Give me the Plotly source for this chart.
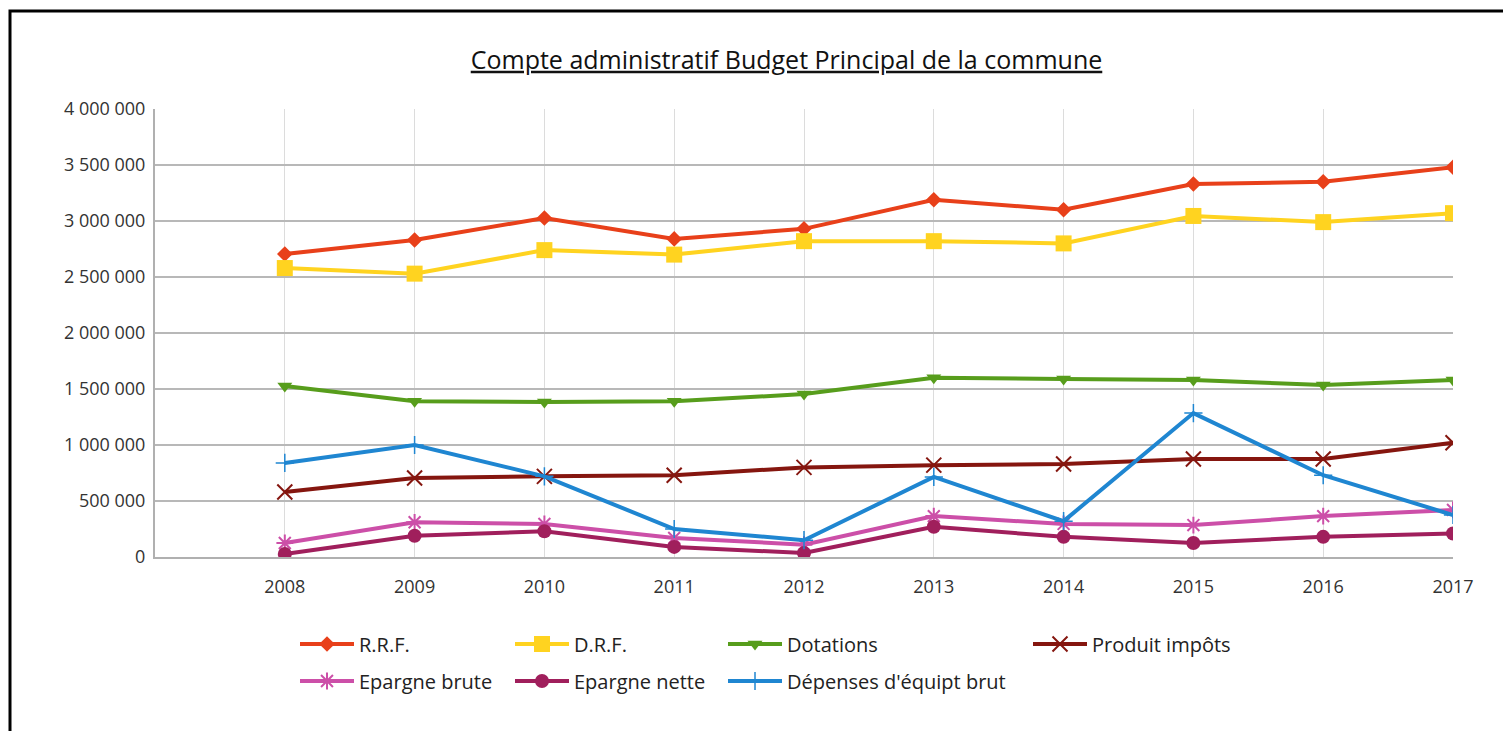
import plotly.graph_objects as go

years = [2008, 2009, 2010, 2011, 2012, 2013, 2014, 2015, 2016, 2017]

rrf = [2705000, 2830000, 3027000, 2840000, 2930000, 3190000, 3100000, 3330000, 3350000, 3480000]
drf = [2580000, 2530000, 2740000, 2700000, 2820000, 2820000, 2800000, 3045000, 2990000, 3070000]
dotations = [1527000, 1390000, 1384000, 1390000, 1455000, 1600000, 1590000, 1580000, 1535000, 1580000]
produit_impots = [580000, 705000, 720000, 730000, 800000, 820000, 830000, 875000, 875000, 1020000]
epargne_brute = [125000, 310000, 295000, 170000, 110000, 365000, 295000, 285000, 365000, 420000]
epargne_nette = [27000, 190000, 230000, 90000, 35000, 270000, 180000, 125000, 180000, 210000]
depenses_equip = [840000, 1000000, 720000, 250000, 150000, 715000, 320000, 1285000, 730000, 375000]

series_names = ["R.R.F.", "D.R.F.", "Dotations", "Produit impôts",
                "Epargne brute", "Epargne nette", "Dépenses d'équipt brut"]
series_values = [rrf, drf, dotations, produit_impots, epargne_brute, epargne_nette, depenses_equip]
colors = ["#e8401a", "#ffd320", "#579d1c", "#85160f", "#cc4fa8", "#a01f5c", "#1f86d1"]
symbols = ["diamond", "square", "triangle-down", "x-thin", "asterisk", "circle", "cross-thin"]
sizes = [12, 16, 13, 15, 14, 14, 13]
thin_widths = {"x-thin": 2, "asterisk": 2, "cross-thin": 1.5}

title_text = "Compte administratif Budget Principal de la commune"
y_ticks = [0, 500000, 1000000, 1500000, 2000000, 2500000, 3000000, 3500000, 4000000]

# page has an 8px body margin: figure drawn at (8, 8)
OFF = 8
W, H = 1503, 723
# plot area in page pixels
PL, PR, PT, PB = 155, 1453, 109, 557
# legend placement (page pixel positions of line start, row centre)
leg_pos = [(301, 644), (516, 644), (729, 644), (1034, 644),
           (301, 681), (516, 681), (729, 681)]

fig = go.Figure()
for i, (name, vals) in enumerate(zip(series_names, series_values)):
    marker = dict(symbol=symbols[i], size=sizes[i], color=colors[i])
    if symbols[i] in thin_widths:
        marker["line"] = dict(color=colors[i], width=thin_widths[symbols[i]])
    else:
        marker["line"] = dict(width=0)
    fig.add_trace(go.Scatter(
        x=years, y=vals, name=name, mode="lines+markers",
        line=dict(color=colors[i], width=4),
        marker=marker,
        legend="legend" if i == 0 else f"legend{i+1}",
    ))

legend_common = dict(
    orientation="h", xref="container", yref="container",
    xanchor="left", yanchor="middle", bgcolor="rgba(0,0,0,0)",
    borderwidth=0, itemwidth=54,
    font=dict(family="Open Sans", size=20, color="#222222"),
)
layout_legends = {}
for i, (px, py) in enumerate(leg_pos):
    key = "legend" if i == 0 else f"legend{i+1}"
    d = dict(legend_common)
    d.update(x=(px - 6 - OFF) / W, y=1 - (py - OFF) / H)
    layout_legends[key] = d

pw = PR - PL
ph = PB - PT

fig.update_layout(
    width=W, height=H,
    paper_bgcolor="white", plot_bgcolor="white",
    margin=dict(l=PL - OFF, r=W - (PR - OFF), t=PT - OFF, b=H - (PB - OFF)),
    separators=", ",
    title=dict(text="<u>" + title_text + "</u>", x=((468 + 1105) / 2 - OFF) / W, xanchor="center",
               y=1 - (60 - OFF) / H, yanchor="middle",
               font=dict(family="Open Sans", size=25, color="#111111")),
    xaxis=dict(range=[2007, 2017], tickvals=years, ticktext=[str(y) for y in years],
               showgrid=True, gridcolor="#dcdcdc", gridwidth=1,
               showline=True, linecolor="#b0b0b0", linewidth=2,
               zeroline=False, ticks="", ticklabelstandoff=12,
               tickfont=dict(family="Open Sans", size=18, color="#333333")),
    yaxis=dict(range=[0, 4000000], tickvals=y_ticks, tickformat=",d",
               showgrid=True, gridcolor="#b8b8b8", gridwidth=1.5,
               showline=True, linecolor="#b0b0b0", linewidth=2,
               zeroline=False, ticks="", ticklabelstandoff=4,
               tickfont=dict(family="Open Sans", size=18, color="#333333")),
    shapes=[dict(type="rect", xref="paper", yref="paper",
                 x0=(10 - PL) / pw, x1=(1540 - PL) / pw,
                 y0=(PB - 760) / ph, y1=(PB - 11) / ph,
                 line=dict(color="black", width=3), fillcolor="rgba(0,0,0,0)",
                 layer="below")],
    showlegend=True,
    **layout_legends,
)

fig.write_html("out.html")
